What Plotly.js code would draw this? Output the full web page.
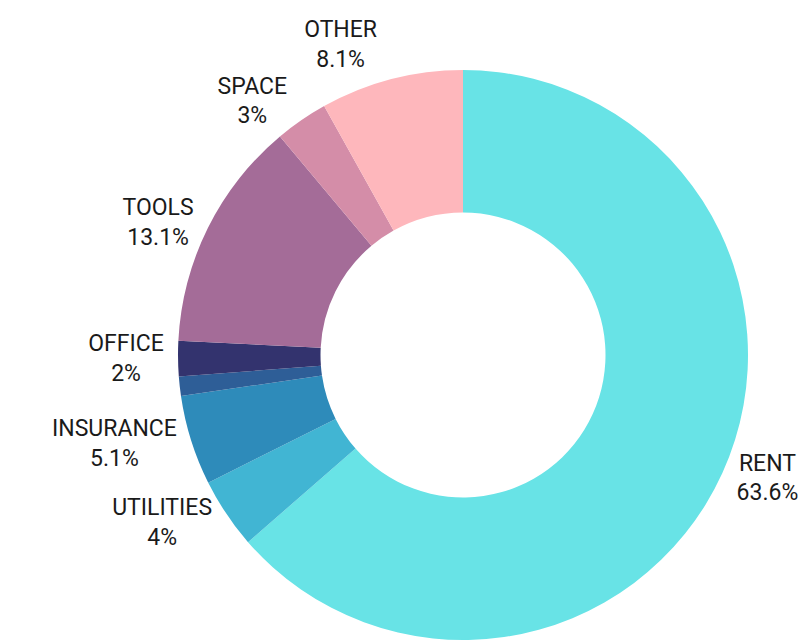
<!DOCTYPE html>
<html>
<head>
<meta charset="utf-8">
<script src="https://cdn.plot.ly/plotly-3.0.1.min.js"></script>
<style>html,body{margin:0;padding:0;background:#fff;}#chart{width:804px;height:642px;}
#chart path.textline{display:none;}</style>
</head>
<body>
<div id="chart"></div>
<script>
const categories = ["RENT", "UTILITIES", "INSURANCE", "MISC", "OFFICE", "TOOLS", "SPACE", "OTHER"];
const shares = [63.6, 4, 5.1, 1.1, 2, 13.1, 3, 8.1];
const showLabel = [true, true, true, false, true, true, true, true];
const colors = ["#68E3E6", "#41B5D3", "#2E8BBA", "#2E5E97", "#33336E", "#A46C98", "#D48DA8", "#FEB7BC"];

const texts = categories.map((c, i) => showLabel[i] ? c + "<br>" + shares[i] + "%" : "");

Plotly.newPlot("chart", [{
  type: "pie",
  labels: categories,
  values: shares,
  text: texts,
  textinfo: "text",
  textposition: "outside",
  hole: 0.5,
  sort: false,
  direction: "clockwise",
  rotation: 0,
  marker: {colors: colors, line: {width: 0}},
  outsidetextfont: {family: "Roboto, sans-serif", size: 23, color: "#1a1a1a"},
  domain: {x: [178/804, 748/804], y: [2/642, 572/642]},
  showlegend: false,
  hoverinfo: "label+percent"
}], {
  width: 804, height: 642,
  margin: {l: 0, r: 0, t: 0, b: 0},
  paper_bgcolor: "#fff",
  showlegend: false
}, {displayModeBar: false, staticPlot: true});
</script>
</body>
</html>
